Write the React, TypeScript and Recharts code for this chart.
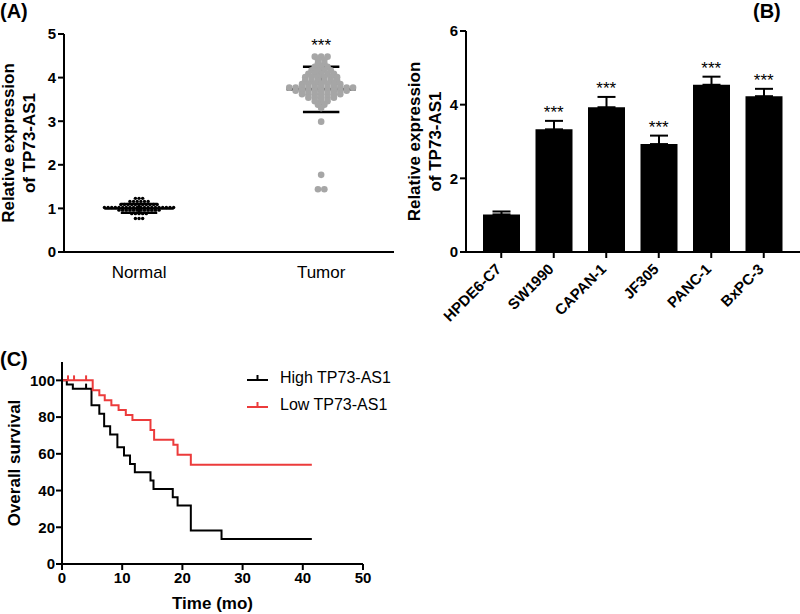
import React from "react";
import {
  ScatterChart,
  Scatter,
  ComposedChart,
  Bar,
  ErrorBar,
  Line,
  LabelList,
  XAxis,
  YAxis,
  ReferenceLine,
  ReferenceDot,
  Label,
  Legend,
} from "recharts";

const FONT = "'Liberation Sans', Arial, Helvetica, sans-serif";
const RED = "#ec3b3b";
const GREY = "#a6a6a6";

// (A) TP73-AS1 expression in tissues, one value per sample
const groups = ["Normal", "Tumor"];
const normalValues = [
  1.23, 1.23, 1.23,
  1.16, 1.16, 1.16, 1.16, 1.16, 1.16,
  1.09, 1.09, 1.09, 1.09, 1.09, 1.09, 1.09, 1.09, 1.09, 1.09, 1.09,
  1.02, 1.02, 1.02, 1.02, 1.02, 1.02, 1.02, 1.02, 1.02, 1.02,
  1.02, 1.02, 1.02, 1.02, 1.02, 1.02, 1.02, 1.02, 1.02, 1.02,
  0.96, 0.96, 0.96, 0.96, 0.96, 0.96, 0.96, 0.96, 0.96, 0.96, 0.96, 0.96,
  0.88, 0.88, 0.88, 0.88, 0.88,
  0.77, 0.77, 0.77,
];
const tumorValues = [
  4.48, 4.48, 4.48,
  4.41, 4.41,
  4.33, 4.33,
  4.25, 4.25, 4.25,
  4.17, 4.17, 4.17, 4.17,
  4.09, 4.09, 4.09, 4.09, 4.09,
  4.01, 4.01, 4.01, 4.01, 4.01, 4.01,
  3.93, 3.93, 3.93, 3.93, 3.93, 3.93,
  3.85, 3.85, 3.85, 3.85, 3.85, 3.85, 3.85,
  3.77, 3.77, 3.77, 3.77, 3.77, 3.77, 3.77, 3.77, 3.77, 3.77, 3.77,
  3.7, 3.7, 3.7, 3.7, 3.7, 3.7, 3.7, 3.7, 3.7,
  3.62, 3.62, 3.62, 3.62, 3.62, 3.62, 3.62,
  3.54, 3.54, 3.54, 3.54, 3.54,
  3.46, 3.46, 3.46,
  3.38, 3.38,
  3.3,
  2.99,
  1.77,
  1.44, 1.44,
];
const groupMeans = [1.0, 3.73];
const groupSD = [0.1, 0.52];

// (B) TP73-AS1 in cell lines
const cellLines = ["HPDE6-C7", "SW1990", "CAPAN-1", "JF305", "PANC-1", "BxPC-3"];
const cellExpression = [1.02, 3.33, 3.93, 2.93, 4.54, 4.23];
const cellSD = [0.08, 0.23, 0.28, 0.23, 0.22, 0.2];
const cellSignificance = ["", "***", "***", "***", "***", "***"];

// (C) Kaplan-Meier overall survival
const highTimes = [0, 0.8, 1.8, 4.9, 6.2, 7.0, 8.0, 9.2, 10.3, 11.3, 12.1, 14.7, 15.2, 18.4, 19.2, 21.4, 26.5, 41.5];
const highSurvival = [100, 97.7, 95.5, 86.4, 81.8, 75.0, 70.5, 63.6, 59.1, 54.5, 50.0, 45.5, 40.9, 36.4, 31.8, 18.2, 13.6, 13.6];
const lowTimes = [0, 5.1, 6.2, 7.1, 8.2, 9.4, 10.6, 11.7, 14.7, 15.3, 18.5, 19.2, 21.4, 41.5];
const lowSurvival = [100, 94.6, 91.9, 89.2, 86.5, 83.8, 81.1, 78.4, 73.0, 67.6, 64.9, 59.5, 54.1, 54.1];
const highCensorTimes = [4.0];
const highCensorSurvival = [95.5];
const lowCensorTimes = [1.0, 2.0, 4.0];
const lowCensorSurvival = [100, 100, 100];

const kmSeries = [
  { name: "High TP73-AS1", color: "#000" },
  { name: "Low TP73-AS1", color: RED },
];

// spread equal values sideways, like a GraphPad scatter dot plot
function swarm(values: number[], center: number, step: number) {
  const counts = new Map<number, number>();
  values.forEach((v) => counts.set(v, (counts.get(v) || 0) + 1));
  const seen = new Map<number, number>();
  return values.map((v) => {
    const n = counts.get(v) || 1;
    const i = seen.get(v) || 0;
    seen.set(v, i + 1);
    return { x: center + (i - (n - 1) / 2) * step, y: v };
  });
}

const normalPoints = swarm(normalValues, 0, 0.02);
const tumorPoints = swarm(tumorValues, 1, 0.035);

const cellTable = cellLines.map((name, i) => ({
  name,
  value: cellExpression[i],
  err: [0, cellSD[i]],
  top: cellExpression[i] + cellSD[i],
  sig: cellSignificance[i],
}));

const highData = highTimes.map((t, i) => ({ t, s: highSurvival[i] }));
const lowData = lowTimes.map((t, i) => ({ t, s: lowSurvival[i] }));
const highCensor = highCensorTimes.map((t, i) => ({ t, s: highCensorSurvival[i] }));
const lowCensor = lowCensorTimes.map((t, i) => ({ t, s: lowCensorSurvival[i] }));

const axisStyle = { stroke: "#000", strokeWidth: 2 };
const numTick = { fill: "#000", fontSize: 15, fontWeight: "bold", fontFamily: FONT };

function yTitle(lines: string[], baselines: number[]) {
  return (props: any) => {
    const vb = props.viewBox || { x: 0, y: 0, width: 0, height: 0 };
    const cy = vb.y + vb.height / 2;
    return (
      <g>
        {lines.map((line, i) => {
          const x = vb.x + baselines[i];
          return (
            <text
              key={line}
              x={x}
              y={cy}
              transform={`rotate(-90 ${x} ${cy})`}
              textAnchor="middle"
              fontSize={17}
              fontWeight="bold"
              fontFamily={FONT}
              fill="#000"
            >
              {line}
            </text>
          );
        })}
      </g>
    );
  };
}

function RotatedTick(props: any) {
  const { x, y, payload } = props;
  return (
    <g transform={`translate(${x + 1},${y + 10})`}>
      <text
        x={0}
        y={0}
        textAnchor="end"
        transform="rotate(-45)"
        fontSize={15}
        fontWeight="bold"
        fontFamily={FONT}
        fill="#000"
      >
        {payload.value}
      </text>
    </g>
  );
}

function censorMark(color: string) {
  return (p: any) => (
    <line x1={p.cx} y1={p.cy} x2={p.cx} y2={p.cy - 5} stroke={color} strokeWidth={2} />
  );
}

function KmLegend() {
  return (
    <div style={{ fontFamily: FONT, fontSize: 16, color: "#000" }}>
      {kmSeries.map((s) => (
        <div key={s.name} style={{ display: "flex", alignItems: "center", height: 27 }}>
          <svg width={35} height={12}>
            <line x1={2} y1={8} x2={23} y2={8} stroke={s.color} strokeWidth={2} />
            <line x1={12.5} y1={8} x2={12.5} y2={3} stroke={s.color} strokeWidth={2} />
          </svg>
          <span>{s.name}</span>
        </div>
      ))}
    </div>
  );
}

function PanelA() {
  const lines: React.ReactNode[] = [];
  groups.forEach((g, i) => {
    const m = groupMeans[i];
    const sd = groupSD[i];
    lines.push(
      <ReferenceLine key={g + "m"} segment={[{ x: i - 0.19, y: m }, { x: i + 0.19, y: m }]} stroke="#000" strokeWidth={2.5} />,
      <ReferenceLine key={g + "v"} segment={[{ x: i, y: m - sd }, { x: i, y: m + sd }]} stroke="#000" strokeWidth={2.5} />,
      <ReferenceLine key={g + "u"} segment={[{ x: i - 0.1, y: m + sd }, { x: i + 0.1, y: m + sd }]} stroke="#000" strokeWidth={2.5} />,
      <ReferenceLine key={g + "l"} segment={[{ x: i - 0.1, y: m - sd }, { x: i + 0.1, y: m - sd }]} stroke="#000" strokeWidth={2.5} />
    );
  });
  const tumorMax = Math.max(...tumorValues);
  return (
    <ScatterChart width={400} height={310} margin={{ top: 34, right: 6, bottom: 18, left: 0 }}>
      <XAxis
        type="number"
        dataKey="x"
        domain={[-0.412, 1.4]}
        ticks={[0, 1]}
        interval={0}
        allowDataOverflow
        tickFormatter={(v: number) => groups[Math.round(v)]}
        tickLine={false}
        tickMargin={8}
        axisLine={axisStyle}
        height={40}
        tick={{ fill: "#000", fontSize: 17, fontFamily: FONT }}
      />
      <YAxis
        type="number"
        dataKey="y"
        domain={[0, 5]}
        ticks={[0, 1, 2, 3, 4, 5]}
        interval={0}
        width={64}
        tickSize={6}
        tickMargin={2}
        axisLine={axisStyle}
        tickLine={axisStyle}
        tick={numTick}
      >
        <Label content={yTitle(["Relative expression", "of TP73-AS1"], [14, 35])} />
      </YAxis>
      <Scatter
        data={normalPoints}
        isAnimationActive={false}
        shape={(p: any) => <circle cx={p.cx} cy={p.cy} r={1.7} fill="#000" />}
      />
      <Scatter
        data={tumorPoints}
        isAnimationActive={false}
        shape={(p: any) => <circle cx={p.cx} cy={p.cy} r={3.3} fill={GREY} />}
      />
      {lines}
      <ReferenceDot
        x={1}
        y={tumorMax}
        r={1}
        fill="none"
        stroke="none"
        label={{ value: "***", position: "top", offset: 5, fontSize: 17, fill: "#000", fontFamily: FONT }}
      />
    </ScatterChart>
  );
}

function PanelB() {
  return (
    <ComposedChart width={400} height={330} data={cellTable} margin={{ top: 31, right: 0, bottom: 0, left: 0 }}>
      <XAxis
        dataKey="name"
        height={78}
        interval={0}
        padding={{ left: 9, right: 10 }}
        tick={<RotatedTick />}
        tickSize={6}
        tickLine={axisStyle}
        axisLine={axisStyle}
      />
      <YAxis
        type="number"
        domain={[0, 6]}
        ticks={[0, 2, 4, 6]}
        interval={0}
        width={66}
        tickSize={6}
        tickMargin={2}
        axisLine={axisStyle}
        tickLine={axisStyle}
        tick={numTick}
      >
        <Label content={yTitle(["Relative expression", "of TP73-AS1"], [20, 41])} />
      </YAxis>
      <Bar dataKey="value" fill="#000" barSize={37} isAnimationActive={false}>
        <ErrorBar dataKey="err" width={9} stroke="#000" strokeWidth={2} direction="y" />
      </Bar>
      <Line dataKey="top" stroke="none" dot={false} activeDot={false} isAnimationActive={false}>
        <LabelList dataKey="sig" position="top" offset={3} fontSize={17} fill="#000" fontFamily={FONT} />
      </Line>
    </ComposedChart>
  );
}

function PanelC() {
  return (
    <ComposedChart width={400} height={304} margin={{ top: 52, right: 37, bottom: 0, left: 0 }}>
      <XAxis
        type="number"
        dataKey="t"
        domain={[0, 50]}
        ticks={[0, 10, 20, 30, 40, 50]}
        interval={0}
        allowDataOverflow
        height={50}
        tickSize={6}
        tickMargin={2}
        axisLine={axisStyle}
        tickLine={axisStyle}
        tick={numTick}
      >
        <Label
          content={(props: any) => {
            const vb = props.viewBox || { x: 0, y: 0, width: 0 };
            return (
              <text
                x={vb.x + vb.width / 2}
                y={vb.y + 45}
                textAnchor="middle"
                fontSize={17}
                fontWeight="bold"
                fontFamily={FONT}
                fill="#000"
              >
                Time (mo)
              </text>
            );
          }}
        />
      </XAxis>
      <YAxis
        type="number"
        dataKey="s"
        domain={[0, 110]}
        ticks={[0, 20, 40, 60, 80, 100]}
        interval={0}
        allowDataOverflow
        width={62}
        tickSize={6}
        tickMargin={1}
        axisLine={axisStyle}
        tickLine={axisStyle}
        tick={numTick}
      >
        <Label content={yTitle(["Overall survival"], [20])} />
      </YAxis>
      <Line data={highData} dataKey="s" type="stepAfter" stroke="#000" strokeWidth={2} dot={false} activeDot={false} isAnimationActive={false} />
      <Line data={lowData} dataKey="s" type="stepAfter" stroke={RED} strokeWidth={2} dot={false} activeDot={false} isAnimationActive={false} />
      <Scatter data={highCensor} dataKey="s" shape={censorMark("#000")} isAnimationActive={false} />
      <Scatter data={lowCensor} dataKey="s" shape={censorMark(RED)} isAnimationActive={false} />
      <Legend
        layout="vertical"
        align="center"
        verticalAlign="middle"
        wrapperStyle={{ left: 245, top: 54, width: 160 }}
        content={() => <KmLegend />}
      />
    </ComposedChart>
  );
}

const panelLabel: React.CSSProperties = {
  position: "absolute",
  fontFamily: FONT,
  fontSize: 20,
  fontWeight: "bold",
  lineHeight: "22px",
  color: "#000",
};

export default function App() {
  return (
    <div style={{ position: "absolute", left: 0, top: 0, width: 800, height: 614, background: "#fff" }}>
      <div style={{ position: "absolute", left: 0, top: 310 }}>
        <PanelC />
      </div>
      <div style={{ position: "absolute", left: 0, top: 0 }}>
        <PanelA />
      </div>
      <div style={{ position: "absolute", left: 400, top: 0 }}>
        <PanelB />
      </div>
      <div style={{ ...panelLabel, left: 0, top: 0 }}>(A)</div>
      <div style={{ ...panelLabel, left: 753, top: 0 }}>(B)</div>
      <div style={{ ...panelLabel, left: 0, top: 348 }}>(C)</div>
    </div>
  );
}
